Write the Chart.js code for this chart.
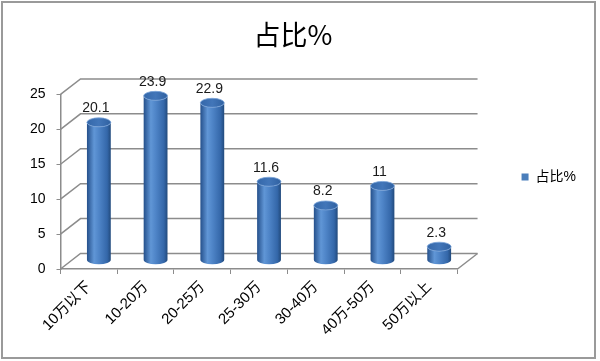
<!DOCTYPE html>
<html>
<head>
<meta charset="utf-8">
<script src="https://cdn.jsdelivr.net/npm/chart.js@4"></script>
<style>
  body { margin: 0; background: #fff; }
  #wrap { width: 600px; height: 361px; }
</style>
</head>
<body>
<div id="wrap"><canvas id="barChart"></canvas></div>
<script>
const categories = ["10万以下", "10-20万", "20-25万", "25-30万", "30-40万", "40万-50万", "50万以上"];
const values = [20.1, 23.9, 22.9, 11.6, 8.2, 11, 2.3];
const seriesName = "占比%";
const yMin = 0, yMax = 25, yStep = 5;

const FONT = '"Liberation Sans", "Noto Sans CJK SC", sans-serif';
const LINE = "#8c8c8c";
const DX = 20, DY = -15.5; // depth of the 3d box

// draws a cylinder standing on "bottom", top at "top"
function cylinder(ctx, cx, top, bottom, w, ry) {
  const l = cx - w / 2, r = cx + w / 2;
  const g = ctx.createLinearGradient(l, 0, r, 0);
  g.addColorStop(0, "#25508b");
  g.addColorStop(0.3, "#6096d6");
  g.addColorStop(0.5, "#4f85c8");
  g.addColorStop(0.85, "#3467a9");
  g.addColorStop(1, "#224a7c");
  ctx.beginPath();
  ctx.moveTo(l, top);
  ctx.lineTo(l, bottom);
  ctx.ellipse(cx, bottom, w / 2, ry, 0, Math.PI, 0, true);
  ctx.lineTo(r, top);
  ctx.ellipse(cx, top, w / 2, ry, 0, 0, Math.PI, false);
  ctx.closePath();
  ctx.fillStyle = g;
  ctx.fill();

  const gt = ctx.createLinearGradient(l, 0, r, 0);
  gt.addColorStop(0, "#3467a9");
  gt.addColorStop(0.5, "#4276b9");
  gt.addColorStop(1, "#3061a1");
  ctx.beginPath();
  ctx.ellipse(cx, top, w / 2, ry, 0, 0, Math.PI * 2);
  ctx.fillStyle = gt;
  ctx.fill();
  ctx.strokeStyle = "#7aa3d8";
  ctx.lineWidth = 0.8;
  ctx.stroke();
}

const box3d = {
  id: "box3d",
  beforeDraw(chart) {
    const ctx = chart.ctx;
    ctx.save();
    ctx.fillStyle = "#fff";
    ctx.fillRect(0, 0, chart.width, chart.height);
    ctx.strokeStyle = "#9a9a9a";
    ctx.lineWidth = 2;
    ctx.strokeRect(2, 2, 593, 356);
    ctx.restore();
  },
  beforeDatasetsDraw(chart) {
    const ctx = chart.ctx, y = chart.scales.y, a = chart.chartArea;
    ctx.save();
    ctx.strokeStyle = LINE;
    ctx.lineWidth = 1.5;
    for (let v = yMin; v <= yMax; v += yStep) {
      const py = y.getPixelForValue(v);
      ctx.beginPath();
      ctx.moveTo(a.left, py);
      ctx.lineTo(a.left + DX, py + DY);
      ctx.lineTo(a.right + DX, py + DY);
      ctx.stroke();
    }
    // right edge of the floor
    ctx.beginPath();
    ctx.moveTo(a.right, a.bottom);
    ctx.lineTo(a.right + DX, a.bottom + DY);
    ctx.stroke();
    ctx.restore();
  },
  beforeDatasetDraw() {
    return false; // bars are drawn as cylinders below
  },
  afterDatasetsDraw(chart) {
    const ctx = chart.ctx;
    const meta = chart.getDatasetMeta(0);
    ctx.save();
    meta.data.forEach((bar, i) => {
      const cx = bar.x + DX / 2;
      const top = bar.y + DY / 2 + 1.5;
      const bottom = bar.base + DY / 2 - 1;
      cylinder(ctx, cx, top, bottom, bar.width, 4.5);
      ctx.fillStyle = "#1a1a1a";
      ctx.font = "14px " + FONT;
      ctx.textAlign = "center";
      ctx.textBaseline = "bottom";
      ctx.fillText(String(values[i]), cx - 3, top - 7);
    });
    ctx.restore();
  }
};

new Chart(document.getElementById("barChart"), {
  type: "bar",
  data: {
    labels: categories,
    datasets: [{
      label: seriesName,
      data: values,
      backgroundColor: "#4a7ebb",
      categoryPercentage: 1,
      barPercentage: 0.42
    }]
  },
  options: {
    responsive: true,
    maintainAspectRatio: false,
    animation: false,
    layout: { padding: { left: 0, right: 14, top: 0, bottom: 7 } },
    plugins: {
      title: {
        display: true,
        text: "占比%",
        color: "#000",
        font: { family: '"Noto Sans CJK SC", sans-serif', size: 27, weight: "normal" },
        padding: { top: 19, bottom: 43 }
      },
      legend: {
        position: "right",
        labels: {
          boxWidth: 7,
          boxHeight: 7,
          padding: 64,
          color: "#000",
          font: { family: FONT, size: 14 }
        }
      },
      tooltip: { enabled: false }
    },
    scales: {
      x: {
        grid: { color: "transparent", tickColor: LINE, tickLength: 5, offset: true },
        border: { color: LINE, width: 1.5 },
        ticks: { minRotation: 45, maxRotation: 45, padding: 4, color: "#000", font: { family: FONT, size: 15 } },
        afterFit: (s) => { s.height = 85; }
      },
      y: {
        min: yMin,
        max: yMax,
        ticks: { stepSize: yStep, padding: 11, color: "#000", font: { family: FONT, size: 14 } },
        grid: { color: "transparent", tickColor: LINE, tickLength: 4 },
        border: { color: LINE, width: 1.5 },
        afterFit: (s) => { s.width = 60.5; }
      }
    }
  },
  plugins: [box3d]
});
</script>
</body>
</html>
